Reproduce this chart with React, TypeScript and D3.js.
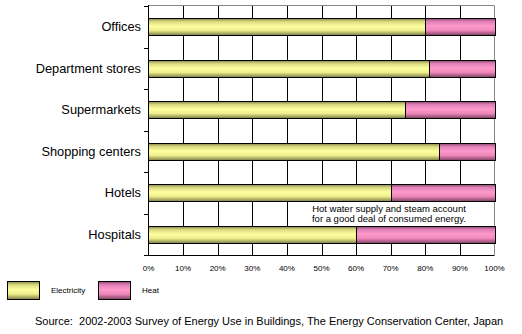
import React from "react";
import * as d3 from "d3";

const categories = ["Offices", "Department stores", "Supermarkets", "Shopping centers", "Hotels", "Hospitals"];
const electricity = [80, 81, 74, 84, 70, 60];
const heat = [20, 19, 26, 16, 30, 40];
const tickValues = [0, 10, 20, 30, 40, 50, 60, 70, 80, 90, 100];
const seriesNames = ["Electricity", "Heat"];

export default function App() {
  const W = 522, H = 334;
  const x = d3.scaleLinear().domain([0, 100]).range([148.5, 494.5]);
  const y = d3.scaleBand().domain(categories).range([6, 255]).paddingInner(0.59).paddingOuter(0.295);
  const band = (255 - 6) / categories.length;
  const font = "'Liberation Sans', Arial, sans-serif";
  return (
    <svg width={W} height={H} style={{ position: "absolute", left: 0, top: 0, background: "#fff" }}>
      <defs>
        <linearGradient id="gY" x1="0" y1="0" x2="0" y2="1">
          <stop offset="0" stopColor="#86864a" />
          <stop offset="0.18" stopColor="#d8d880" />
          <stop offset="0.45" stopColor="#ffffa0" />
          <stop offset="0.7" stopColor="#eeee8e" />
          <stop offset="1" stopColor="#7a7a44" />
        </linearGradient>
        <linearGradient id="gP" x1="0" y1="0" x2="0" y2="1">
          <stop offset="0" stopColor="#8a4a6e" />
          <stop offset="0.18" stopColor="#e080b8" />
          <stop offset="0.45" stopColor="#ff99cc" />
          <stop offset="0.7" stopColor="#ee88bb" />
          <stop offset="1" stopColor="#7a4060" />
        </linearGradient>
      </defs>
      {/* plot border */}
      <line x1={148.5} x2={494.5} y1={5.5} y2={5.5} stroke="#888" />
      <line x1={494.5} x2={494.5} y1={5.5} y2={255} stroke="#888" />
      {/* gridlines */}
      {tickValues.slice(1, -1).map((t) => (
        <line key={t} x1={Math.round(x(t)) + 0.5} x2={Math.round(x(t)) + 0.5} y1={6} y2={255} stroke="#000" />
      ))}
      <line x1={148} x2={494.5} y1={255.5} y2={255.5} stroke="#000" />
      <line x1={148.5} x2={148.5} y1={5} y2={256} stroke="#000" />
      {/* category ticks */}
      {d3.range(categories.length + 1).map((i) => (
        <line key={i} x1={144} x2={148.5} y1={Math.round(6 + i * band) + 0.5} y2={Math.round(6 + i * band) + 0.5} stroke="#000" />
      ))}
      {/* annotation box */}
      <rect x={298} y={198} width={196} height={28} fill="#fff" />
      {/* bars */}
      {categories.map((c, i) => {
        const y0 = Math.round(y(c)!) + 0.5;
        const h = Math.round(y.bandwidth());
        const xe = Math.round(x(electricity[i])) + 0.5;
        const xh = Math.round(x(electricity[i] + heat[i])) + 0.5;
        return (
          <g key={c}>
            <rect x={148.5} y={y0} width={xe - 148.5} height={h} fill="url(#gY)" stroke="#000" />
            <rect x={xe} y={y0} width={xh - xe} height={h} fill="url(#gP)" stroke="#000" />
            <text x={141} y={y0 + h / 2} dy="0.35em" textAnchor="end" fontFamily={font} fontSize={12.8} fill="#000">
              {c}
            </text>
          </g>
        );
      })}
      {/* x tick labels */}
      {tickValues.map((t) => (
        <text key={t} x={x(t)} y={268} dy="0.35em" textAnchor="middle" fontFamily={font} fontSize={8} fill="#000">
          {t}%
        </text>
      ))}
      {/* annotation */}
      <text x={389} y={208.5} dy="0.35em" textAnchor="middle" fontFamily={font} fontSize={9.5} fill="#000">
        Hot water supply and steam account
      </text>
      <text x={389} y={219} dy="0.35em" textAnchor="middle" fontFamily={font} fontSize={9.5} fill="#000">
        for a good deal of consumed energy.
      </text>
      {/* legend */}
      <rect x={7.5} y={281.5} width={32} height={18} fill="url(#gY)" stroke="#000" />
      <text x={51} y={290.5} dy="0.35em" fontFamily={font} fontSize={8} fill="#000">{seriesNames[0]}</text>
      <rect x={98.5} y={281.5} width={32} height={18} fill="url(#gP)" stroke="#000" />
      <text x={142} y={290.5} dy="0.35em" fontFamily={font} fontSize={8} fill="#000">{seriesNames[1]}</text>
      {/* source */}
      <text x={35} y={321} dy="0.35em" fontFamily={font} fontSize={11} fill="#000" style={{ whiteSpace: "pre" }}>
        {"Source:  2002-2003 Survey of Energy Use in Buildings, The Energy Conservation Center, Japan"}
      </text>
    </svg>
  );
}
